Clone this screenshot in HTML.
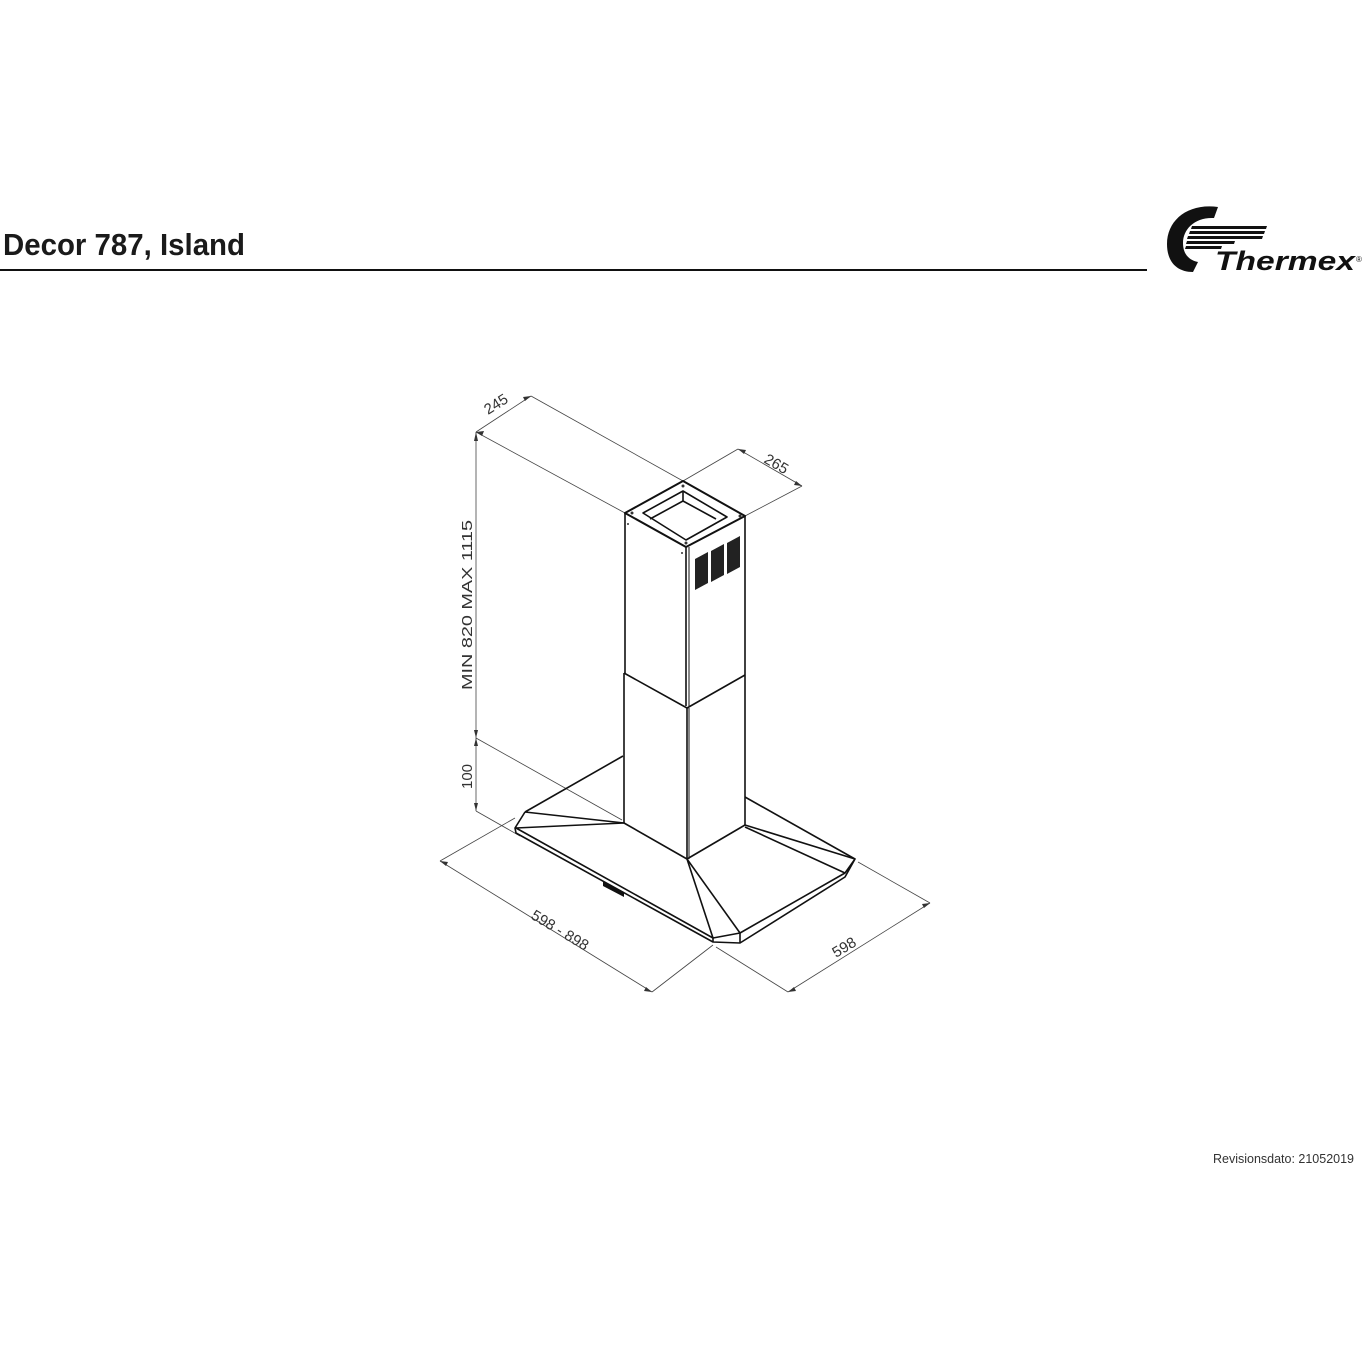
<!DOCTYPE html>
<html><head><meta charset="utf-8"><style>
html,body{margin:0;padding:0;background:#fff;}
svg{display:block;}
</style></head><body>
<svg width="1366" height="1366" viewBox="0 0 1366 1366" xmlns="http://www.w3.org/2000/svg" font-family="Liberation Sans, sans-serif">
<rect width="1366" height="1366" fill="#fff"/>
<!-- header -->
<text x="3" y="255" font-size="31" font-weight="bold" fill="#1a1a1a" textLength="242" lengthAdjust="spacingAndGlyphs">Decor 787, Island</text>
<rect x="0" y="269" width="1147" height="2" fill="#111"/>
<!-- logo -->
<g fill="#111">
<path d="M1218 207 C1188 203 1167 220 1167 244 C1167 262 1177 272 1193 272 L1198 262 C1188 260 1183 253 1183 243 C1183 229 1195 217 1214 218 Z"/>
<polygon points="1192,226 1267,226 1266,229 1191,229"/>
<polygon points="1190,231 1265,231 1264,234 1189,234"/>
<polygon points="1188,236 1263,236 1262,239 1187,239"/>
<polygon points="1187,241 1235,241 1234,244 1186,244"/>
<polygon points="1186,246 1222,246 1221,249 1185,249"/>
</g>
<text x="1215" y="270" font-size="27" font-weight="bold" font-style="italic" fill="#111" textLength="140" lengthAdjust="spacingAndGlyphs">Thermex</text>
<text x="1356" y="262" font-size="8" fill="#111">®</text>
<!-- revision -->
<text x="1213" y="1163" font-size="12.5" fill="#333" textLength="141" lengthAdjust="spacingAndGlyphs">Revisionsdato: 21052019</text>

<!-- dimension lines -->
<g stroke="#444" stroke-width="0.8" fill="none">
<line x1="476" y1="432" x2="625" y2="513"/>
<line x1="531" y1="396" x2="683" y2="481"/>
<line x1="476" y1="432" x2="531" y2="396"/>
<line x1="683" y1="481" x2="738" y2="449"/>
<line x1="745" y1="516" x2="802" y2="486"/>
<line x1="738" y1="449" x2="802" y2="486"/>
<line x1="476" y1="432" x2="476" y2="811"/>
<line x1="476" y1="738" x2="622" y2="820"/>
<line x1="476" y1="811" x2="520" y2="836"/>
<line x1="515" y1="818" x2="440" y2="861"/>
<line x1="440" y1="861" x2="652" y2="992"/>
<line x1="713" y1="945" x2="652" y2="992"/>
<line x1="716" y1="947" x2="788" y2="992"/>
<line x1="858" y1="862" x2="930" y2="903"/>
<line x1="788" y1="992" x2="930" y2="903"/>
</g>
<g fill="#333">
<polygon points="476,432 484,431 482,436"/>
<polygon points="531,396 523,397 525,401"/>
<polygon points="738,449 746,450 744,454"/>
<polygon points="802,486 794,485 796,481"/>
<polygon points="476,432 474,441 478,441"/>
<polygon points="476,738 474,730 478,730"/>
<polygon points="476,738 474,746 478,746"/>
<polygon points="476,811 474,803 478,803"/>
<polygon points="440,861 448,862 446,866"/>
<polygon points="652,992 644,991 646,987"/>
<polygon points="788,992 796,991 794,987"/>
<polygon points="930,903 922,904 924,908"/>
</g>
<g fill="#333" font-size="15">
<text transform="translate(488,415) rotate(-32)">245</text>
<text transform="translate(763,462) rotate(30)">265</text>
<text transform="translate(472,690) rotate(-90)" textLength="170" lengthAdjust="spacingAndGlyphs">MIN 820   MAX 1115</text>
<text transform="translate(472,789) rotate(-90)">100</text>
<text transform="translate(530,918) rotate(31)" textLength="64">598 - 898</text>
<text transform="translate(836,958) rotate(-31)">598</text>
</g>

<!-- hood -->
<g stroke="#111" stroke-width="1.6" fill="none" stroke-linejoin="round">
<polygon points="625,513 683,481 745,516 686,547" stroke-width="2"/>
<polygon points="643,513 683,491 727,517 686,540"/>
<polyline points="683,491 683,501 716,519"/>
<polyline points="683,501 650,519"/>
<line x1="625" y1="513" x2="625" y2="673"/>
<line x1="686" y1="547" x2="686" y2="706"/>
<line x1="689" y1="547" x2="689" y2="706" stroke-width="1"/>
<line x1="745" y1="516" x2="745" y2="675"/>
<polyline points="624,673 687,708 745,675"/>
<line x1="624" y1="673" x2="624" y2="823"/>
<line x1="687" y1="708" x2="687" y2="859"/>
<line x1="689" y1="708" x2="689" y2="859" stroke-width="1"/>
<line x1="745" y1="675" x2="745" y2="825"/>
<line x1="623" y1="756" x2="525" y2="812"/>
<line x1="745" y1="797" x2="855" y2="859"/>
<polyline points="525,812 515,828 516,833 713,942 740,943 845,877 855,859 845,873 740,933 713,938 516,828"/>
<line x1="525" y1="812" x2="624" y2="823"/>
<line x1="516" y1="828" x2="624" y2="823"/>
<line x1="624" y1="823" x2="687" y2="859"/>
<line x1="687" y1="859" x2="745" y2="825"/>
<line x1="745" y1="825" x2="855" y2="859"/>
<line x1="745" y1="827" x2="845" y2="873"/>
<line x1="687" y1="859" x2="713" y2="938"/>
<line x1="687" y1="859" x2="740" y2="933"/>
<line x1="713" y1="938" x2="713" y2="942"/>
<line x1="740" y1="933" x2="740" y2="943"/>
</g>
<polygon points="603,881 624,892 624,897 603,886" fill="#111"/>
<g fill="#222">
<polygon points="695,559 708,552 708,583 695,590"/>
<polygon points="711,551 724,544 724,575 711,582"/>
<polygon points="727,543 740,536 740,567 727,574"/>
</g>
<g fill="#333">
<circle cx="632" cy="513" r="1.5"/><circle cx="683" cy="486" r="1.5"/><circle cx="740" cy="516" r="1.5"/><circle cx="686" cy="543" r="1.5"/>
<circle cx="628" cy="524" r="1"/><circle cx="682" cy="553" r="1"/>
</g>
</svg>
</body></html>
